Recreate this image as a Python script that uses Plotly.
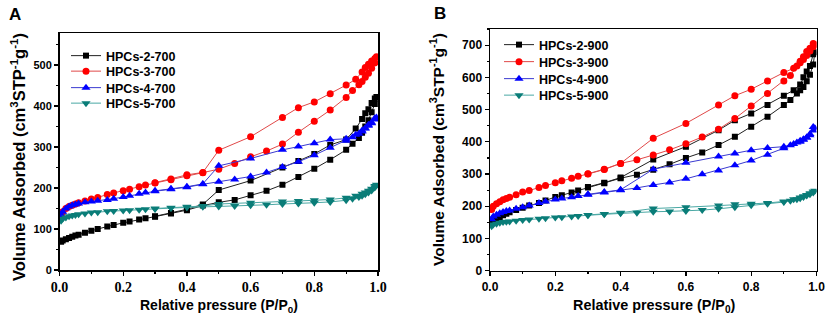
import plotly.graph_objects as go

# ---------------- data: panel A (700) ----------------
P_ads_A = [0.005,0.01,0.02,0.03,0.04,0.05,0.06,0.08,0.1,0.12,0.15,0.17,0.2,0.22,0.25,0.27,0.3,0.35,0.4,0.45,0.5,0.55,0.6,0.65,0.7,0.75,0.8,0.85,0.9,0.92,0.94,0.95,0.96,0.97,0.98,0.99,0.995]
P_des_A = [0.99,0.98,0.97,0.96,0.95,0.93,0.9,0.85,0.8,0.75,0.7,0.6,0.5,0.45,0.4,0.35,0.3]

hpc2_700_ads = [69,72,75,78,81,84,86,91,96,100,106,110,115,118,123,126,130,138,146,157,165,171,182,193,208,227,247,269,293,308,322,335,350,365,385,405,422]
hpc2_700_des = [418,407,392,382,368,345,318,305,283,266,250,218,195,160,148,139,131]
hpc3_700_ads = [133,142,150,155,158,161,164,168,173,177,184,188,193,197,203,207,212,220,230,237,246,260,276,290,307,336,363,390,421,438,452,460,470,480,492,505,520]
hpc3_700_des = [516,510,502,494,483,465,451,430,410,396,372,325,292,238,232,222,213]
hpc4_700_ads = [134,142,150,155,158,160,162,165,167,169,171,174,178,181,186,189,192,197,202,209,215,221,228,238,251,264,280,298,315,324,332,340,346,354,360,367,372]
hpc4_700_des = [370,358,352,345,338,330,320,318,309,301,293,272,254,210,203,198,193]
hpc5_700_ads = [120,125,128,131,133,134,136,138,140,141,143,144,145,146,147,148,149,151,153,154,155,156,158,159,161,162,164,166,170,174,178,181,185,189,194,201,208]
hpc5_700_des = [205,198,193,189,186,181,176,172,170,168,167,164,161,156,154,152,150]

# ---------------- data: panel B (900) ----------------
P_ads_B = P_ads_A
P_des_B = [0.99,0.98,0.97,0.96,0.95,0.93,0.9,0.85,0.8,0.75,0.7,0.6,0.5,0.4,0.35,0.3]

hpc2_900_ads = [150,155,160,166,172,177,181,188,195,202,210,218,229,234,243,249,258,271,287,298,313,330,350,367,390,416,447,478,514,530,550,560,570,588,608,640,678]
hpc2_900_des = [672,635,618,600,578,560,543,514,488,467,436,385,345,289,273,260]
hpc3_900_ads = [190,200,208,214,220,224,228,236,244,249,258,264,273,279,287,293,300,314,333,344,359,375,394,415,439,472,511,550,589,606,635,645,655,668,682,695,702]
hpc3_900_des = [705,690,680,664,650,628,615,589,563,543,514,457,411,333,315,301]
hpc4_900_ads = [160,168,174,178,182,185,187,192,197,202,210,215,221,224,228,232,236,243,250,257,266,274,285,299,311,327,342,360,380,389,398,403,408,413,424,435,442]
hpc4_900_des = [446,420,413,406,400,393,385,381,374,364,354,335,315,251,244,237]
hpc5_900_ads = [138,143,146,149,151,152,153,155,157,159,161,163,165,166,168,170,172,175,178,180,183,184,185,188,192,197,203,208,213,217,222,225,229,233,237,243,248]
hpc5_900_des = [246,240,235,231,227,222,215,210,208,206,202,197,193,180,176,173]

x_ticks = [0.0, 0.2, 0.4, 0.6, 0.8, 1.0]
x_tick_text = ["0.0", "0.2", "0.4", "0.6", "0.8", "1.0"]

series_A = [
    ("HPCs-2-700", hpc2_700_ads, hpc2_700_des),
    ("HPCs-3-700", hpc3_700_ads, hpc3_700_des),
    ("HPCs-4-700", hpc4_700_ads, hpc4_700_des),
    ("HPCs-5-700", hpc5_700_ads, hpc5_700_des),
]
series_B = [
    ("HPCs-2-900", hpc2_900_ads, hpc2_900_des),
    ("HPCs-3-900", hpc3_900_ads, hpc3_900_des),
    ("HPCs-4-900", hpc4_900_ads, hpc4_900_des),
    ("HPCs-5-900", hpc5_900_ads, hpc5_900_des),
]

styles = [
    dict(mcolor="#000000", lcolor="#202020", symbol="square", size=6),
    dict(mcolor="#FF0000", lcolor="#E04848", symbol="circle", size=7),
    dict(mcolor="#0000FF", lcolor="#3A3AD0", symbol="triangle-up", size=8),
    dict(mcolor="#0A7D78", lcolor="#4AA8A4", symbol="triangle-down", size=8),
]

W, H = 829, 320
def px_x(p): return p / W
def px_y(p): return 1 - p / H

# legend row centres (pixels) for each panel
legend_rows_A = [56, 71.5, 88, 103.5]
legend_rows_B = [45, 62, 79, 95.5]

fig = go.Figure()
legend_layouts = {}
leg_font = dict(family="Arial", size=12.5, color="black", weight="bold")

def add_panel(series, p_ads, p_des, xa, ya, first_leg, leg_x, rows):
    for i, ((name, ads, des), st) in enumerate(zip(series, styles)):
        lid = "legend" if first_leg + i == 1 else "legend%d" % (first_leg + i)
        fig.add_trace(go.Scatter(
            x=p_ads + p_des, y=ads + des, name=name, mode="lines+markers",
            line=dict(color=st["lcolor"], width=1),
            marker=dict(color=st["mcolor"], symbol=st["symbol"], size=st["size"],
                        line=dict(width=0)),
            xaxis=xa, yaxis=ya, legend=lid))
        legend_layouts[lid] = dict(x=px_x(leg_x), y=px_y(rows[i]), xanchor="left",
                                   yanchor="middle", bgcolor="rgba(0,0,0,0)",
                                   borderwidth=0, font=leg_font)

add_panel(series_A, P_ads_A, P_des_A, "x", "y", 1, 66, legend_rows_A)
add_panel(series_B, P_ads_B, P_des_B, "x2", "y2", 5, 499, legend_rows_B)

common_x = dict(range=[0, 1.0], tickvals=x_ticks, ticktext=x_tick_text,
                showline=True, linecolor="black", linewidth=1.5, mirror=True,
                ticks="outside", ticklen=4, tickwidth=1.2, tickcolor="black",
                minor=dict(dtick=0.1, ticks="outside", ticklen=2, tickcolor="black"),
                showgrid=False, zeroline=False, automargin=False)
common_y = dict(showline=True, linecolor="black", linewidth=1.5, mirror=True,
                ticks="outside", ticklen=4, tickwidth=1.2, tickcolor="black",
                dtick=100, minor=dict(dtick=50, ticks="outside", ticklen=2, tickcolor="black"),
                showgrid=False, zeroline=False, automargin=False)

fig.update_layout(
    template="none",
    width=W, height=H, margin=dict(l=0, r=0, t=0, b=0, pad=0, autoexpand=False),
    paper_bgcolor="white", plot_bgcolor="white", showlegend=True,
    xaxis=dict(domain=[px_x(59.5), px_x(378)], anchor="y",
               tickfont=dict(family="Liberation Serif", size=14, color="black", weight="bold"),
               **common_x),
    yaxis=dict(domain=[px_y(270), px_y(33)], anchor="x", range=[0, 578],
               tickfont=dict(family="Arial", size=11, color="black", weight="bold"),
               **common_y),
    xaxis2=dict(domain=[px_x(490), px_x(816.5)], anchor="y2",
                tickfont=dict(family="Arial", size=12, color="black", weight="bold"),
                **common_x),
    yaxis2=dict(domain=[px_y(270.7), px_y(29)], anchor="x2", range=[0, 750],
                tickfont=dict(family="Arial", size=12, color="black", weight="bold"),
                **common_y),
    **legend_layouts,
)

ytitle = "Volume Adsorbed (cm<sup>3</sup>STP<sup>-1</sup>g<sup>-1</sup>)"
xtitle = "Relative pressure (P/P<sub>0</sub>)"
ann = [
    dict(text="<b>A</b>", x=px_x(14.5), y=px_y(14.5), size=17),
    dict(text="<b>B</b>", x=px_x(440), y=px_y(13.5), size=17),
    dict(text="<b>" + ytitle + "</b>", x=px_x(18), y=px_y(157), size=16.5, angle=-90),
    dict(text="<b>" + ytitle + "</b>", x=px_x(437), y=px_y(150), size=15.5, angle=-90),
    dict(text="<b>" + xtitle + "</b>", x=px_x(218.8), y=px_y(306), size=14),
    dict(text="<b>" + xtitle + "</b>", x=px_x(654), y=px_y(306), size=14.4),
]
for a in ann:
    fig.add_annotation(text=a["text"], x=a["x"], y=a["y"], xref="paper", yref="paper",
                       xanchor="center", yanchor="middle", showarrow=False,
                       textangle=a.get("angle", 0),
                       font=dict(family="Arial", size=a["size"], color="black"))

fig.write_html("out.html", config={"displayModeBar": False, "staticPlot": True},
               post_script="document.body.style.margin='0';document.body.style.overflow='hidden';")
